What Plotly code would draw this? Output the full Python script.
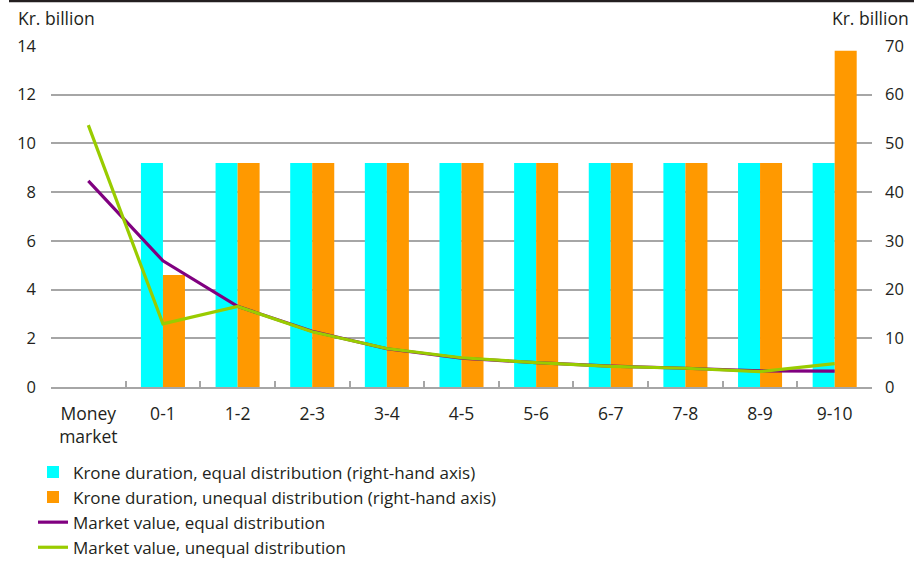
import plotly.graph_objects as go

# Maturity buckets
categories = ["Money<br>market", "0-1", "1-2", "2-3", "3-4", "4-5", "5-6", "6-7", "7-8", "8-9", "9-10"]

# Krone duration (right-hand axis, Kr. billion)
krone_equal = [None, 46, 46, 46, 46, 46, 46, 46, 46, 46, 46]
krone_unequal = [None, 23, 46, 46, 46, 46, 46, 46, 46, 46, 69]

# Market value (left-hand axis, Kr. billion)
mv_equal = [8.46, 5.18, 3.31, 2.29, 1.57, 1.18, 1.0, 0.86, 0.77, 0.66, 0.65]
mv_unequal = [10.75, 2.59, 3.31, 2.27, 1.58, 1.2, 1.0, 0.85, 0.77, 0.63, 0.96]

left_ticks = [0, 2, 4, 6, 8, 10, 12, 14]
right_ticks = [0, 10, 20, 30, 40, 50, 60, 70]

W, H = 914, 561
ML, MR, MT, MB = 51, 42, 46, 173.5
PW = W - ML - MR
PH = H - MT - MB

FONT = "Open Sans"
TXT = "#231f20"
GRID = "#a6a6a6"

fig = go.Figure()

fig.add_trace(go.Bar(
    x=categories, y=krone_equal, name="Krone duration, equal distribution (right-hand axis)",
    marker=dict(color="#00ffff", line=dict(width=0)), yaxis="y",
))
fig.add_trace(go.Bar(
    x=categories, y=krone_unequal, name="Krone duration, unequal distribution (right-hand axis)",
    marker=dict(color="#ff9900", line=dict(width=0)), yaxis="y",
))
fig.add_trace(go.Scatter(
    x=categories, y=mv_equal, name="Market value, equal distribution",
    mode="lines", line=dict(color="#800080", width=3.2), yaxis="y2",
))
fig.add_trace(go.Scatter(
    x=categories, y=mv_unequal, name="Market value, unequal distribution",
    mode="lines", line=dict(color="#99cc00", width=3.2), yaxis="y2",
))

def px_x(px):
    return (px - ML) / PW

def px_y(py):
    return (H - MB - py) / PH

fig.update_layout(
    width=W, height=H,
    margin=dict(l=ML, r=MR, t=MT, b=MB, pad=0, autoexpand=False),
    paper_bgcolor="white", plot_bgcolor="white",
    font=dict(family=FONT, size=16, color=TXT),
    barmode="group", bargap=0.41, bargroupgap=0,
    showlegend=True,
    legend=dict(
        x=px_x(33), y=px_y(455), xanchor="left", yanchor="top",
        font=dict(family=FONT, size=17, color=TXT),
        traceorder="normal", itemwidth=30, tracegroupgap=0,
        bgcolor="rgba(0,0,0,0)",
    ),
    xaxis=dict(
        type="category", showgrid=False, showline=True, linecolor=GRID, linewidth=1.5,
        ticks="inside", tickson="boundaries", ticklen=6, tickcolor=GRID, tickwidth=1.5,
        tickfont=dict(size=17.5, color=TXT), tickangle=0, ticklabelstandoff=10,
        fixedrange=True,
    ),
    yaxis=dict(
        side="right", range=[0, 70], tickvals=right_ticks, showgrid=True,
        gridcolor=GRID, gridwidth=1.5, zeroline=False, showline=False,
        ticks="", ticklabelstandoff=12, tickfont=dict(size=16.5, color=TXT),
    ),
    yaxis2=dict(
        side="left", overlaying="y", range=[0, 14], tickvals=left_ticks, showgrid=False,
        zeroline=False, showline=False, ticks="", ticklabelstandoff=14,
        tickfont=dict(size=16.5, color=TXT),
    ),
    annotations=[
        dict(text="Kr. billion", xref="paper", yref="paper", x=px_x(16), y=px_y(18),
             xanchor="left", yanchor="middle", showarrow=False, font=dict(size=17.5, color=TXT)),
        dict(text="Kr. billion", xref="paper", yref="paper", x=px_x(911), y=px_y(18),
             xanchor="right", yanchor="middle", showarrow=False, font=dict(size=17.5, color=TXT)),
    ],
    shapes=[
        dict(type="line", xref="paper", yref="paper", x0=px_x(9), x1=px_x(914),
             y0=px_y(1), y1=px_y(1), line=dict(color="#231f20", width=2.5)),
    ],
)

fig.write_html("out.html")
